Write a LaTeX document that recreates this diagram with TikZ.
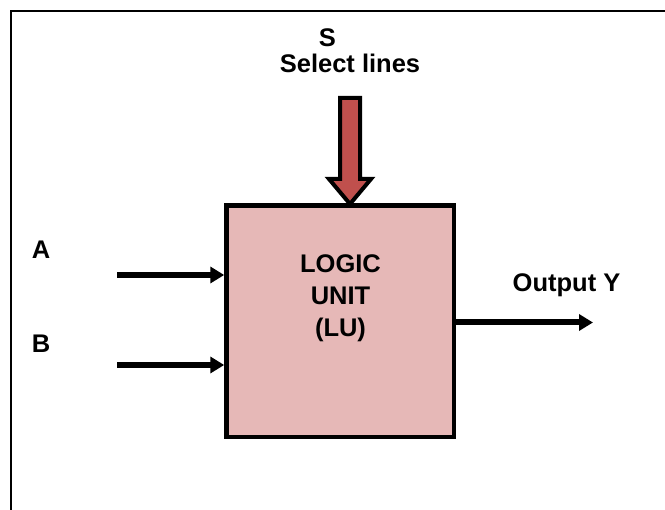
\documentclass[tikz,border=0pt]{standalone}
\usepackage{fontspec}
\setmainfont{Liberation Sans}
\usetikzlibrary{arrows.meta}
\definecolor{boxfill}{HTML}{E6B8B7}
\definecolor{selfill}{HTML}{C0504D}
\begin{document}
\begin{tikzpicture}[x=1pt,y=-1pt,
  lbl/.style={anchor=base,inner sep=0pt,font=\bfseries\fontsize{25.5}{32}\selectfont},
  lubox/.style={draw=black,line width=4.5pt,fill=boxfill,minimum width=227.5pt,minimum height=231.5pt,inner sep=0pt},
  inarrow/.style={line width=6pt,-{Triangle[length=14pt,width=16pt]}},
  selarrow/.style={draw=black,line width=4pt,fill=selfill,line join=miter}]
\useasboundingbox (0,0) rectangle (665,510);
% frame
\draw[line width=2pt] (11,512) -- (11,11) -- (667,11);
% logic unit
\node[lubox] (lu) at (340.25,321.25) {};
\node[lbl] (l1) at (340.5,273) {LOGIC};
\node[lbl] (l2) at (340.5,305) {UNIT};
\node[lbl] (l3) at (340.5,337) {(LU)};
% select arrow
\draw[selarrow] (340,98) -- (360,98) -- (360,179) -- (371,179) -- (350,204) -- (329,179) -- (340,179) -- cycle;
\node[lbl] (s) at (327.5,47) {S};
\node[lbl] (sel) at (350,73) {Select lines};
% inputs
\node[lbl] (a) at (41,259) {A};
\node[lbl] (b) at (41,353) {B};
\coordinate (ina) at (117,275);
\coordinate (inb) at (117,365);
\draw[inarrow] (ina) -- (ina -| lu.west);
\draw[inarrow] (inb) -- (inb -| lu.west);
% output
\coordinate (outy) at (593,322.5);
\draw[inarrow] (lu.east |- outy) -- (outy);
\node[lbl] (y) at (566.5,292) {Output Y};
\end{tikzpicture}
\end{document}
